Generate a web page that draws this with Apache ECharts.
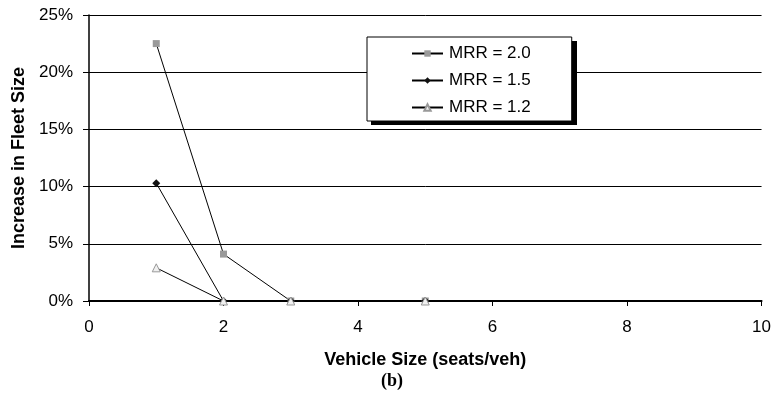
<!DOCTYPE html>
<html><head><meta charset="utf-8">
<script src="https://cdn.jsdelivr.net/npm/echarts@6/dist/echarts.min.js"></script>
<style>html,body{margin:0;padding:0;background:#fff}#c{width:774px;height:403px}</style>
</head><body><div id="c"></div>
<script>
const seriesNames = ["MRR = 2.0", "MRR = 1.5", "MRR = 1.2"];
const xValues = [1, 2, 3, 5];
const mrr20 = [0.225, 0.041, 0, 0];
const mrr15 = [0.103, 0, 0, 0];
const mrr12 = [0.029, 0, 0, 0];
const yTicks = [0, 0.05, 0.10, 0.15, 0.20, 0.25];

const pairs = v => xValues.map((x, i) => [x, v[i]]);
const chart = echarts.init(document.getElementById('c'));
const font = '"Liberation Sans", Arial, sans-serif';
chart.setOption({
  animation: false,
  backgroundColor: '#fff',
  grid: {left: 89, right: 10, top: 15, bottom: 102},
  xAxis: {
    type: 'value', min: 0, max: 10, interval: 2,
    name: 'Vehicle Size (seats/veh)', nameLocation: 'middle', nameGap: 50,
    nameTextStyle: {fontFamily: font, fontWeight: 'bold', fontSize: 18, color: '#000'},
    axisLine: {lineStyle: {color: '#000', width: 2}},
    axisTick: {show: true, length: 5, lineStyle: {color: '#000'}},
    axisLabel: {fontFamily: font, fontSize: 17, color: '#000', margin: 18},
    splitLine: {show: false}
  },
  yAxis: {
    type: 'value', min: yTicks[0], max: yTicks[yTicks.length - 1], interval: 0.05,
    name: 'Increase in Fleet Size', nameLocation: 'middle', nameGap: 55,
    nameTextStyle: {fontFamily: font, fontWeight: 'bold', fontSize: 18, color: '#000'},
    axisLine: {show: true, lineStyle: {color: '#000', width: 1.5}},
    axisTick: {show: true, length: 6, lineStyle: {color: '#000'}},
    axisLabel: {fontFamily: font, fontSize: 17, color: '#000', margin: 16,
      formatter: v => Math.round(v * 100) + '%'},
    splitLine: {show: true, lineStyle: {color: '#000', width: 1}}
  },
  legend: {
    orient: 'vertical', left: 367, top: 37,
    padding: [8, 41, 5, 44], itemGap: 10, itemWidth: 31, itemHeight: 8,
    backgroundColor: '#fff', borderColor: '#000', borderWidth: 1,
    textStyle: {fontFamily: font, fontSize: 17, color: '#000', padding: [0, 0, 0, 1]},
    data: seriesNames
  },
  series: [
    {name: seriesNames[0], type: 'line', data: pairs(mrr20), symbol: 'rect', symbolSize: 7,
     itemStyle: {color: '#9a9a9a'}, lineStyle: {color: '#000', width: 1}},
    {name: seriesNames[1], type: 'line', data: pairs(mrr15), symbol: 'diamond', symbolSize: 8,
     itemStyle: {color: '#111'}, lineStyle: {color: '#000', width: 1}},
    {name: seriesNames[2], type: 'line', data: pairs(mrr12), symbol: 'triangle', symbolSize: 8,
     itemStyle: {color: '#f0f0f0', borderColor: '#999', borderWidth: 1}, lineStyle: {color: '#000', width: 1}}
  ],
  graphic: [
    {type: 'rect', z: 3, shape: {x: 371, y: 41, width: 206, height: 84}, style: {fill: '#000'}},
    {type: 'text', z: 5, style: {x: 392, y: 381, text: '(b)', textAlign: 'center', textVerticalAlign: 'middle',
      font: 'bold 18px "Liberation Serif", "Times New Roman", serif', fill: '#000'}}
  ]
});
</script></body></html>
